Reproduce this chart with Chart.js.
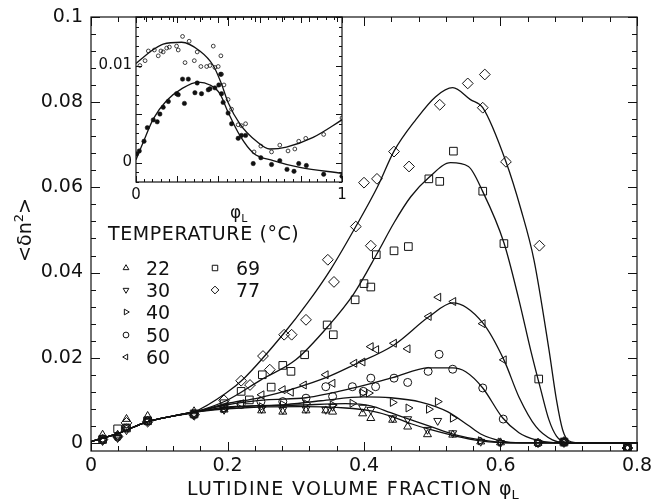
<!DOCTYPE html>
<html>
<head>
<meta charset="utf-8">
<script src="https://cdn.jsdelivr.net/npm/chart.js@4.4.1/dist/chart.umd.min.js"></script>
<style>
  html, body { margin: 0; padding: 0; background: #fff; }
  #wrap { position: relative; width: 652px; height: 504px; }
  #wrap canvas { position: absolute; left: 0; top: 0; }
</style>
</head>
<body>
<div id="wrap">
  <canvas id="main" width="652" height="504"></canvas>
  <canvas id="inset" width="652" height="504"></canvas>
</div>
<script>
// ---- data ----
const temperatures = ['22', '30', '40', '50', '60', '69', '77'];

// measured points [phi_L, <dn^2>]
const obs22 = [[0.017,0.0019],[0.039,0.0019],[0.052,0.0056],[0.083,0.0063],[0.151,0.0074],[0.195,0.0078],[0.25,0.0076],[0.281,0.0073],[0.315,0.0076],[0.344,0.0076],[0.354,0.0073],[0.398,0.0069],[0.41,0.0058],[0.442,0.0054],[0.464,0.0038],[0.493,0.0020],[0.53,0.0019],[0.571,0.0003],[0.60,0.0001],[0.655,0.0],[0.693,0.0002],[0.786,-0.0012]];
const obs30 = [[0.017,0.0005],[0.039,0.0012],[0.052,0.0030],[0.083,0.0050],[0.151,0.0066],[0.195,0.0078],[0.25,0.0080],[0.281,0.0078],[0.315,0.0080],[0.344,0.0078],[0.354,0.0085],[0.398,0.0083],[0.41,0.0078],[0.442,0.0058],[0.464,0.0056],[0.493,0.0031],[0.508,0.0052],[0.53,0.0023],[0.571,0.0003],[0.60,0.0],[0.655,0.0],[0.693,0.0002],[0.786,-0.0010]];
const obs40 = [[0.017,0.0008],[0.039,0.0015],[0.052,0.0035],[0.083,0.0052],[0.151,0.0068],[0.195,0.0080],[0.25,0.0085],[0.281,0.0090],[0.315,0.0092],[0.354,0.0089],[0.383,0.0093],[0.398,0.0117],[0.407,0.0117],[0.442,0.0095],[0.465,0.0082],[0.495,0.0079],[0.508,0.0097],[0.53,0.0058],[0.571,0.0005],[0.60,0.0002],[0.655,0.0],[0.693,0.0002],[0.786,-0.0012]];
const obs50 = [[0.017,0.0008],[0.039,0.0015],[0.052,0.0035],[0.083,0.0052],[0.151,0.0068],[0.195,0.0082],[0.22,0.0090],[0.249,0.0097],[0.281,0.0097],[0.315,0.0105],[0.344,0.0132],[0.354,0.0109],[0.383,0.0132],[0.399,0.0121],[0.41,0.0152],[0.417,0.0132],[0.444,0.0152],[0.464,0.0142],[0.494,0.0168],[0.51,0.0208],[0.53,0.0173],[0.574,0.0129],[0.604,0.0056],[0.655,0.0],[0.693,0.0002],[0.786,-0.0012]];
const obs60 = [[0.017,0.0008],[0.039,0.0015],[0.052,0.0035],[0.083,0.0052],[0.151,0.0068],[0.195,0.0085],[0.22,0.0092],[0.25,0.0113],[0.281,0.0125],[0.293,0.0119],[0.312,0.0136],[0.344,0.0160],[0.354,0.0140],[0.386,0.0187],[0.398,0.0190],[0.41,0.0226],[0.418,0.0219],[0.444,0.0234],[0.464,0.0221],[0.495,0.0297],[0.509,0.0342],[0.531,0.0332],[0.574,0.0280],[0.605,0.0195],[0.693,0.0002],[0.786,-0.0012]];
const obs69 = [[0.017,0.0008],[0.039,0.0033],[0.052,0.0035],[0.083,0.0052],[0.151,0.0068],[0.195,0.0092],[0.22,0.0121],[0.232,0.0101],[0.251,0.0160],[0.264,0.0131],[0.281,0.0182],[0.293,0.0168],[0.313,0.0207],[0.346,0.0277],[0.355,0.0254],[0.387,0.0336],[0.40,0.0374],[0.41,0.0366],[0.418,0.0442],[0.444,0.0451],[0.465,0.0461],[0.495,0.0620],[0.511,0.0614],[0.531,0.0685],[0.574,0.0591],[0.605,0.0468],[0.656,0.0150],[0.693,0.0002],[0.786,-0.0012]];
const obs77 = [[0.017,0.0008],[0.039,0.0015],[0.052,0.0047],[0.083,0.0050],[0.151,0.0066],[0.195,0.0100],[0.22,0.0146],[0.233,0.0136],[0.252,0.0204],[0.262,0.0172],[0.283,0.0254],[0.294,0.0254],[0.315,0.0289],[0.347,0.0430],[0.356,0.0378],[0.388,0.0508],[0.40,0.0611],[0.41,0.0463],[0.419,0.0620],[0.444,0.0684],[0.466,0.0649],[0.511,0.0794],[0.552,0.0844],[0.577,0.0865],[0.574,0.0787],[0.608,0.0660],[0.657,0.0463],[0.693,0.0002],[0.786,-0.0012]];

// fitted curves
const fitLow = [[0,0.0003],[0.041,0.0023],[0.081,0.0049],[0.12,0.0063],[0.15,0.0072]];
const fit22 = [[0.22,0.0082],[0.307,0.0085],[0.373,0.0082],[0.41,0.0075],[0.439,0.0063],[0.469,0.0045],[0.498,0.0031],[0.534,0.0016],[0.571,0.0005],[0.615,0],[0.8,0]];
const fit30 = [[0.22,0.0085],[0.307,0.0089],[0.373,0.0092],[0.41,0.0087],[0.439,0.0071],[0.469,0.0054],[0.498,0.0038],[0.534,0.0019],[0.571,0.0007],[0.615,0],[0.8,0]];
const fit40 = [[0.205,0.0085],[0.278,0.0089],[0.337,0.0099],[0.40,0.0108],[0.439,0.0106],[0.483,0.0096],[0.523,0.0073],[0.552,0.0042],[0.571,0.0021],[0.60,0.0005],[0.63,0],[0.8,0]];
const fit50 = [[0.198,0.0089],[0.256,0.0101],[0.315,0.0106],[0.385,0.0129],[0.442,0.0153],[0.495,0.0176],[0.53,0.0176],[0.549,0.0167],[0.574,0.0129],[0.603,0.0059],[0.627,0.0024],[0.652,0.0007],[0.681,0],[0.8,0]];
const fit60 = [[0.198,0.0092],[0.246,0.0106],[0.296,0.0127],[0.347,0.0155],[0.385,0.0183],[0.444,0.0230],[0.495,0.0296],[0.53,0.0329],[0.574,0.0282],[0.605,0.0195],[0.627,0.0108],[0.652,0.0038],[0.676,0.0007],[0.695,0],[0.8,0]];
const fit69 = [[0.198,0.0099],[0.249,0.0148],[0.30,0.0195],[0.347,0.0273],[0.385,0.0350],[0.42,0.0447],[0.444,0.0517],[0.4685,0.0578],[0.495,0.0623],[0.527,0.0658],[0.553,0.0649],[0.574,0.0590],[0.605,0.0470],[0.627,0.0336],[0.644,0.0219],[0.659,0.0125],[0.671,0.0054],[0.682,0.0016],[0.695,0.0002],[0.717,0],[0.8,0]];
const fit77 = [[0.198,0.0117],[0.2245,0.0152],[0.283,0.0258],[0.317,0.0328],[0.351,0.0407],[0.388,0.0508],[0.42,0.0602],[0.444,0.0685],[0.476,0.0759],[0.505,0.0813],[0.53,0.0834],[0.556,0.0806],[0.574,0.0787],[0.608,0.0660],[0.63,0.0548],[0.649,0.0430],[0.671,0.0219],[0.682,0.0101],[0.691,0.0031],[0.7,0.0005],[0.717,0],[0.8,0]];

// inset
const insetOpen = [[0.019,0.0100],[0.044,0.0105],[0.060,0.0115],[0.089,0.0116],[0.108,0.0110],[0.121,0.0115],[0.132,0.0114],[0.149,0.0118],[0.162,0.0119],[0.197,0.0120],[0.205,0.0116],[0.226,0.0130],[0.238,0.0103],[0.258,0.0125],[0.283,0.0105],[0.297,0.0114],[0.315,0.0099],[0.343,0.0099],[0.359,0.0100],[0.375,0.0120],[0.383,0.0098],[0.399,0.0099],[0.412,0.0110],[0.415,0.0091],[0.427,0.0080],[0.447,0.0065],[0.464,0.0055],[0.496,0.0039],[0.512,0.0038],[0.532,0.0040],[0.573,0.0011],[0.606,0.0017],[0.658,0.0011],[0.698,0.0018],[0.738,0.0012],[0.771,0.0014],[0.790,0.0022],[0.824,0.0025],[0.911,0.0029],[1.0,0.0046]];
const insetFilled = [[0.003,0.0009],[0.016,0.0012],[0.039,0.0022],[0.055,0.0036],[0.084,0.0044],[0.103,0.0042],[0.116,0.0050],[0.132,0.0057],[0.157,0.0063],[0.197,0.0071],[0.205,0.0070],[0.226,0.0086],[0.235,0.0061],[0.254,0.0086],[0.286,0.0072],[0.297,0.0082],[0.318,0.0071],[0.351,0.0075],[0.359,0.0076],[0.383,0.0077],[0.402,0.0080],[0.411,0.0091],[0.415,0.0071],[0.423,0.0062],[0.447,0.0051],[0.464,0.0040],[0.496,0.0025],[0.512,0.0028],[0.532,0.0028],[0.569,-0.0001],[0.606,0.0005],[0.658,-0.0002],[0.698,0.0002],[0.733,-0.0007],[0.767,-0.0009],[0.790,-0.0001],[0.827,-0.0003],[0.911,-0.0012],[1.0,-0.0014]];
const insetOpenFit = [[0,0.0102],[0.068,0.0114],[0.132,0.0122],[0.221,0.0124],[0.31,0.0115],[0.375,0.0100],[0.415,0.0081],[0.447,0.0062],[0.504,0.0040],[0.585,0.0022],[0.65,0.0014],[0.73,0.0016],[0.86,0.0026],[1.0,0.0044]];
const insetFilledFit = [[0,0.0003],[0.035,0.0021],[0.084,0.0045],[0.149,0.0064],[0.221,0.0076],[0.302,0.0083],[0.359,0.0080],[0.407,0.0071],[0.447,0.0052],[0.504,0.0028],[0.569,0.0010],[0.666,0.0002],[0.795,-0.0005],[1.0,-0.0011]];

// tick labels
const xTickLabels = [0, 0.2, 0.4, 0.6, 0.8];
const yTickLabels = [0, 0.02, 0.04, 0.06, 0.08, 0.1];
const insetXLabels = [0, 1];
const insetYLabels = [0, 0.01];

const observed = {'22': obs22, '30': obs30, '40': obs40, '50': obs50, '60': obs60, '69': obs69, '77': obs77};
const fitted = {'22': fit22, '30': fit30, '40': fit40, '50': fit50, '60': fit60, '69': fit69, '77': fit77};

// marker look per temperature
const markers = {
  '22': {style: 'triangle', rot: 0, r: 4.6},
  '30': {style: 'triangle', rot: 180, r: 4.6},
  '40': {style: 'triangle', rot: 90, r: 4.6},
  '50': {style: 'circle', rot: 0, r: 4},
  '60': {style: 'triangle', rot: 270, r: 4.6},
  '69': {style: 'rect', rot: 0, r: 5.4},
  '77': {style: 'rectRot', rot: 0, r: 5.4}
};

const INK = '#111';
const FONT = "'DejaVu Sans', sans-serif";
Chart.defaults.font.family = FONT;
Chart.defaults.color = INK;

const toXY = arr => arr.map(([x, y]) => ({x, y}));
const isMultiple = (v, m) => Math.abs(v / m - Math.round(v / m)) < 1e-6;
const inList = (v, list) => list.some(l => Math.abs(l - v) < 1e-9);

// frame + inward ticks on all four sides
const frameTicks = {
  id: 'frameTicks',
  afterDatasetsDraw(chart, args, o) {
    const {ctx, chartArea: a, scales} = chart;
    ctx.save();
    ctx.strokeStyle = INK;
    ctx.lineWidth = o.lineWidth;
    ctx.strokeRect(a.left, a.top, a.right - a.left, a.bottom - a.top);
    ctx.beginPath();
    scales.x.ticks.forEach(t => {
      const p = Math.round(scales.x.getPixelForValue(t.value)) + 0.5;
      const len = isMultiple(t.value, o.xMajor) ? o.major : o.minor;
      ctx.moveTo(p, a.bottom); ctx.lineTo(p, a.bottom - len);
      ctx.moveTo(p, a.top); ctx.lineTo(p, a.top + len);
    });
    scales.y.ticks.forEach(t => {
      const p = Math.round(scales.y.getPixelForValue(t.value)) + 0.5;
      const len = isMultiple(t.value, o.yMajor) ? o.major : o.minor;
      ctx.moveTo(a.left, p); ctx.lineTo(a.left + len, p);
      ctx.moveTo(a.right, p); ctx.lineTo(a.right - len, p);
    });
    ctx.lineWidth = 1;
    ctx.stroke();
    ctx.restore();
  }
};

function drawRun(ctx, x, y, parts, center) {
  let w = 0;
  parts.forEach(p => { ctx.font = p.font; w += ctx.measureText(p.text).width; });
  let cx = center ? x - w / 2 : x;
  parts.forEach(p => {
    ctx.font = p.font;
    ctx.fillText(p.text, cx, y + (p.dy || 0));
    cx += ctx.measureText(p.text).width;
  });
}

// axis titles and the temperature legend
const annotations = {
  id: 'annotations',
  afterDraw(chart) {
    const ctx = chart.ctx;
    const big = '19px ' + FONT, small = '13px ' + FONT;
    ctx.save();
    ctx.fillStyle = INK;
    ctx.textBaseline = 'alphabetic';

    // y title, rotated
    ctx.save();
    ctx.translate(31, 230);
    ctx.rotate(-Math.PI / 2);
    drawRun(ctx, 0, 0, [
      {text: '<\u03b4n', font: big},
      {text: '2', font: small, dy: -8},
      {text: '>', font: big}
    ], true);
    ctx.restore();

    // x title
    ctx.letterSpacing = '1.3px';
    drawRun(ctx, 187, 495, [{text: 'LUTIDINE VOLUME FRACTION ', font: big}], false);
    ctx.letterSpacing = '0px';
    drawRun(ctx, 499, 495, [
      {text: '\u03c6', font: big},
      {text: 'L', font: small, dy: 4}
    ], false);

    // legend
    ctx.font = big;
    ctx.letterSpacing = '0.6px';
    ctx.fillText('TEMPERATURE (\u00b0C)', 108, 240);
    ctx.letterSpacing = '0px';
    const rows = [268, 290, 312, 335, 357];
    temperatures.forEach((t, i) => {
      const col = i < 5 ? 0 : 1;
      const y = rows[col ? i - 5 : i];
      const sx = col ? 215 : 126, tx = col ? 236 : 146;
      const m = markers[t];
      ctx.save();
      ctx.strokeStyle = INK;
      ctx.fillStyle = 'rgba(0,0,0,0)';
      ctx.lineWidth = 1;
      Chart.helpers.drawPoint(ctx, {pointStyle: m.style, rotation: m.rot, radius: m.r * 0.72, borderWidth: 1}, sx, y);
      ctx.restore();
      ctx.font = big;
      ctx.fillText(t, tx, y + 7);
    });
    ctx.restore();
  }
};

// ---- main chart ----
const datasets = [];
temperatures.forEach(t => {
  datasets.push({
    label: t + ' fit',
    data: toXY(fitLow.concat(fitted[t])),
    showLine: true,
    pointRadius: 0,
    borderColor: INK,
    borderWidth: 1.3,
    cubicInterpolationMode: 'monotone'
  });
});
temperatures.forEach(t => {
  const m = markers[t];
  datasets.push({
    label: t + ' \u00b0C',
    data: toXY(observed[t]),
    showLine: false,
    pointStyle: m.style,
    rotation: m.rot,
    pointRadius: m.r,
    pointBorderWidth: 1,
    pointBorderColor: INK,
    pointBackgroundColor: 'rgba(255,255,255,0)'
  });
});

new Chart(document.getElementById('main'), {
  type: 'scatter',
  data: {datasets},
  options: {
    responsive: false,
    animation: false,
    devicePixelRatio: 1,
    layout: {autoPadding: false, padding: {left: 0, top: 17, right: 15, bottom: 0}},
    plugins: {
      legend: {display: false},
      tooltip: {enabled: false},
      frameTicks: {lineWidth: 1.2, major: 9, minor: 5, xMajor: 0.2, yMajor: 0.02}
    },
    scales: {
      x: {
        type: 'linear', min: 0, max: 0.8,
        grid: {display: false, drawTicks: false},
        border: {display: false},
        ticks: {
          stepSize: 0.04, autoSkip: false, maxRotation: 0, padding: 4,
          font: {size: 19},
          callback: v => inList(v, xTickLabels) ? String(+v.toFixed(3)) : ''
        },
        afterFit(s) { s.height = 53; s.paddingLeft = 0; s.paddingRight = 0; }
      },
      y: {
        type: 'linear', min: -0.0019, max: 0.1,
        grid: {display: false, drawTicks: false},
        border: {display: false},
        ticks: {
          stepSize: 0.004, includeBounds: false, autoSkip: false, padding: 8,
          font: {size: 19},
          callback: v => inList(v, yTickLabels) ? String(+v.toFixed(3)) : ''
        },
        afterFit(s) { s.width = 91; s.paddingTop = 0; s.paddingBottom = 0; }
      }
    }
  },
  plugins: [frameTicks, annotations]
});

// ---- inset ----
const insetTitle = {
  id: 'insetTitle',
  afterDraw(chart) {
    const ctx = chart.ctx;
    ctx.save();
    ctx.fillStyle = INK;
    drawRun(ctx, 230, 218, [
      {text: '\u03c6', font: '17px ' + FONT},
      {text: 'L', font: '11px ' + FONT, dy: 4}
    ], false);
    ctx.restore();
  }
};

new Chart(document.getElementById('inset'), {
  type: 'scatter',
  data: {
    datasets: [
      {label: 'open fit', data: toXY(insetOpenFit), showLine: true, pointRadius: 0, borderColor: INK, borderWidth: 1.3, cubicInterpolationMode: 'monotone'},
      {label: 'filled fit', data: toXY(insetFilledFit), showLine: true, pointRadius: 0, borderColor: INK, borderWidth: 1.3, cubicInterpolationMode: 'monotone'},
      {label: 'open', data: toXY(insetOpen), pointStyle: 'circle', pointRadius: 1.9, pointBorderWidth: 0.8, pointBorderColor: INK, pointBackgroundColor: 'rgba(255,255,255,0)'},
      {label: 'filled', data: toXY(insetFilled), pointStyle: 'circle', pointRadius: 2.2, pointBorderWidth: 0.5, pointBorderColor: INK, pointBackgroundColor: INK}
    ]
  },
  options: {
    responsive: false,
    animation: false,
    devicePixelRatio: 1,
    layout: {autoPadding: false, padding: {left: 0, top: 17, right: 310, bottom: 292}},
    plugins: {
      legend: {display: false},
      tooltip: {enabled: false},
      frameTicks: {lineWidth: 1.2, major: 6, minor: 3, xMajor: 0.2, yMajor: 0.005}
    },
    scales: {
      x: {
        type: 'linear', min: 0, max: 1,
        grid: {display: false, drawTicks: false},
        border: {display: false},
        ticks: {
          stepSize: 0.04, autoSkip: false, maxRotation: 0, padding: 4,
          font: {size: 15},
          callback: v => inList(v, insetXLabels) ? String(+v.toFixed(3)) : ''
        },
        afterFit(s) { s.height = 30; s.paddingLeft = 0; s.paddingRight = 0; }
      },
      y: {
        type: 'linear', min: -0.002, max: 0.015,
        grid: {display: false, drawTicks: false},
        border: {display: false},
        ticks: {
          stepSize: 0.001, autoSkip: false, padding: 4,
          font: {size: 15},
          callback: v => inList(v, insetYLabels) ? String(+v.toFixed(3)) : ''
        },
        afterFit(s) { s.width = 136; s.paddingTop = 0; s.paddingBottom = 0; }
      }
    }
  },
  plugins: [frameTicks, insetTitle]
});
</script>
</body>
</html>
